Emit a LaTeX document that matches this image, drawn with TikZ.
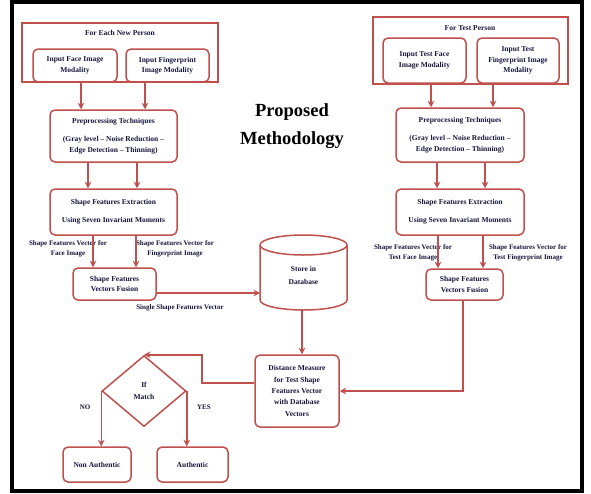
\documentclass[tikz,border=0pt]{standalone}
\usepackage{fontspec}
\setmainfont{Liberation Serif}
\usetikzlibrary{arrows.meta,shapes.geometric}
\definecolor{boxred}{HTML}{C0504D}
\definecolor{ink}{HTML}{15153A}
\tikzset{
  txt/.style={text=ink, font=\fontsize{7.5}{10.5}\selectfont\bfseries, inner sep=0pt, align=center},
  rb/.style={txt, draw=boxred, line width=1.5pt, rounded corners=5pt},
  grp/.style={draw=boxred, line width=1.5pt, inner sep=0pt},
  arr/.style={draw=boxred, line width=1.5pt, -{Stealth[length=6.5pt,width=6.5pt]}},
  ln/.style={draw=boxred, line width=1.5pt},
  lbl/.style={txt, font=\fontsize{7}{10}\selectfont\bfseries},
}
\begin{document}
\begin{tikzpicture}[x=1pt,y=-1pt]
\useasboundingbox (0,0) rectangle (591,493);
\fill[white] (0,0) rectangle (591,493);
\draw[black, line width=4pt] (11.5,1.5) rectangle (581.5,491);

% ---------- left column ----------
\node[grp, minimum width=196pt, minimum height=59pt] (grpL) at (120,52.5) {};
\node[txt] (grpLt) at (120,33) {For Each New Person};
\node[rb, minimum width=84pt, minimum height=33pt] (inL1) at (75,65.5) {Input Face Image\\Modality};
\node[rb, minimum width=83pt, minimum height=33pt] (inL2) at (167.5,65.5) {Input Fingerprint\\Image Modality};
\node[rb, minimum width=127pt, minimum height=52pt] (preL) at (113.5,136) {Preprocessing Techniques\\[8pt](Gray level -- Noise Reduction --\\Edge Detection -- Thinning)};
\node[rb, minimum width=127pt, minimum height=46pt] (shpL) at (113.5,212) {Shape Features Extraction\\[7.5pt]Using Seven Invariant Moments};
\node[lbl] (lblL1) at (68,248.5) {Shape Features Vector for\\Face Image};
\node[lbl] (lblL2) at (175,248.5) {Shape Features Vector for\\Fingerprint Image};
\node[rb, minimum width=83pt, minimum height=32pt] (fusL) at (114.5,284) {Shape Features\\Vectors Fusion};
\node[lbl] (lblS) at (180,307.5) {Single Shape Features Vector};

\draw[arr] (inL1.south -| 81,0) -- (preL.north -| 81,0);
\draw[arr] (inL2.south -| 145,0) -- (preL.north -| 145,0);
\draw[arr] (preL.south -| 88,0) -- (shpL.north -| 88,0);
\draw[arr] (preL.south -| 137,0) -- (shpL.north -| 137,0);
\draw[arr] (shpL.south -| 93,0) -- (fusL.north -| 93,0);
\draw[arr] (shpL.south -| 136,0) -- (fusL.north -| 136,0);

% ---------- title ----------
\node[inner sep=0pt, align=center, text=black, font=\fontsize{18.5}{28}\selectfont\bfseries] (title) at (292,126) {Proposed\\Methodology};

% ---------- database ----------
\draw[ln] (260,245) -- (260,300) arc[start angle=180, end angle=360, x radius=43.5pt, y radius=10pt] -- (347,245);
\draw[ln] (303.5,245) ellipse [x radius=43.5pt, y radius=10pt];
\node[txt] (db) at (303.5,275.5) {Store in\\[3pt]Database};
\coordinate (dbW) at (260,293);
\coordinate (dbB) at (302,310);
\draw[arr] (fusL.east |- dbW) -- (dbW);

% ---------- right column ----------
\node[grp, minimum width=195pt, minimum height=67pt] (grpR) at (470.5,50.5) {};
\node[txt] (grpRt) at (470,28) {For Test Person};
\node[rb, minimum width=83pt, minimum height=45pt] (inR1) at (424.5,60.5) {Input Test Face\\Image Modality};
\node[rb, minimum width=82pt, minimum height=45pt] (inR2) at (518,60.5) {Input Test\\Fingerprint Image\\Modality};
\node[rb, minimum width=128pt, minimum height=54pt] (preR) at (460,135) {Preprocessing Techniques\\[8pt](Gray level -- Noise Reduction --\\Edge Detection -- Thinning)};
\node[rb, minimum width=128pt, minimum height=46pt] (shpR) at (460,212) {Shape Features Extraction\\[7.5pt]Using Seven Invariant Moments};
\node[lbl] (lblR1) at (413,252.5) {Shape Features Vector for\\Test Face Image};
\node[lbl] (lblR2) at (528,252.5) {Shape Features Vector for\\Test Fingerprint Image};
\node[rb, minimum width=77pt, minimum height=31pt] (fusR) at (464.5,284.5) {Shape Features\\Vectors Fusion};

\draw[arr] (inR1.south -| 431,0) -- (preR.north -| 431,0);
\draw[arr] (inR2.south -| 493,0) -- (preR.north -| 493,0);
\draw[arr] (preR.south -| 437,0) -- (shpR.north -| 437,0);
\draw[arr] (preR.south -| 485,0) -- (shpR.north -| 485,0);
\draw[arr] (shpR.south -| 438,0) -- (fusR.north -| 438,0);
\draw[arr] (shpR.south -| 483,0) -- (fusR.north -| 483,0);

% ---------- matching ----------
\node[rb, minimum width=84pt, minimum height=72pt, font=\fontsize{7.5}{11.3}\selectfont\bfseries] (dist) at (297,391) {Distance Measure\\for Test Shape\\Features Vector\\with Database\\Vectors};
\draw[arr] (dbB) -- (dist.north -| dbB);
\draw[arr] (fusR.south -| 463,0) |- (dist.east);

\node[txt, draw=boxred, line width=1.5pt, diamond, aspect=1.18, minimum width=84pt, minimum height=71pt] (dia) at (144,391) {If\\[2pt]Match};
\draw[arr] (dist.west |- 0,383) -- (202,383) |- (dia.north);

\node[rb, minimum width=68pt, minimum height=35pt] (nonA) at (97,464.5) {Non Authentic};
\node[rb, minimum width=71pt, minimum height=35pt] (auth) at (192.5,464.5) {Authentic};
\draw[arr] (dia.west) -- (nonA.north -| dia.west);
\draw[arr] (dia.east) -- (auth.north -| dia.east);
\node[lbl] (no) at (85,407) {NO};
\node[lbl] (yes) at (204,407) {YES};
\end{tikzpicture}
\end{document}
